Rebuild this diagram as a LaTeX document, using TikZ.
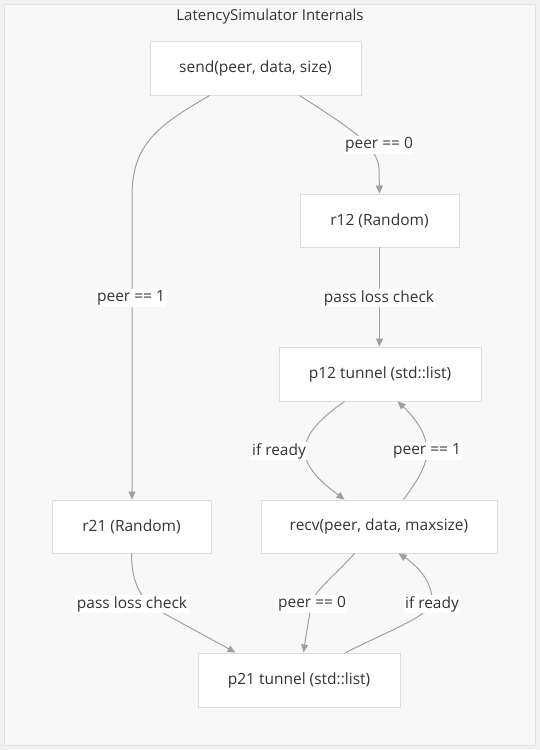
\documentclass[tikz,border=0pt]{standalone}
\usepackage{fontspec}
\setmainfont{Open Sans}
\usetikzlibrary{arrows.meta,calc}
\definecolor{pagebg}{HTML}{F1F1F1}
\definecolor{clusterbg}{HTML}{F8F8F8}
\definecolor{clusterline}{HTML}{E2E2E2}
\definecolor{boxline}{HTML}{DDDDDD}
\definecolor{edgecol}{HTML}{A0A0A0}
\definecolor{txt}{HTML}{333333}
\begin{document}
\begin{tikzpicture}[x=1pt,y=-1pt,
  box/.style={draw=boxline,fill=white,line width=0.9pt,text=txt,font=\fontsize{15.5}{18}\selectfont,inner sep=0pt},
  lbl/.style={fill=white,text=txt,font=\fontsize{15.5}{18}\selectfont,inner sep=1.5pt},
  flow/.style={draw=edgecol,line width=1pt,-{Triangle[length=8pt,width=7pt]}},
]
\useasboundingbox (0,0) rectangle (540,750);
\fill[pagebg] (0,0) rectangle (540,750);
\draw[fill=clusterbg,draw=clusterline,line width=1pt] (4.5,4.5) rectangle (535.5,745.5);
\node[text=txt,font=\fontsize{15}{18}\selectfont] (title) at (270,17) {LatencySimulator Internals};

\node[box,minimum width=211pt,minimum height=54pt] (send) at (255.5,68) {send(peer, data, size)};
\node[box,minimum width=159pt,minimum height=53pt] (r12) at (379.5,220.5) {r12 (Random)};
\node[box,minimum width=202pt,minimum height=54pt] (p12) at (380,374) {p12 tunnel (std::list)};
\node[box,minimum width=159pt,minimum height=53pt] (r21) at (131.5,526.5) {r21 (Random)};
\node[box,minimum width=236pt,minimum height=53pt] (recv) at (379,526.5) {recv(peer, data, maxsize)};
\node[box,minimum width=202pt,minimum height=54pt] (p21) at (299,680) {p21 tunnel (std::list)};

% send -> r21
\coordinate (a1) at ($(send.south west)+(60,0)$);
\draw[flow] (a1) .. controls (165,122) and (132,140) .. (132,195) -- (r21.north -| 132,0);
\node[lbl] (l1) at (131,298) {peer == 1};
% send -> r12
\coordinate (a2) at ($(send.south west)+(150,0)$);
\draw[flow] (a2) .. controls (345,125) and (379,145) .. (379,170) -- (r12.north);
\node[lbl] (l2) at (379,145) {peer == 0};
% r12 -> p12
\draw[flow] (r12.south) -- (r12.south |- p12.north);
\node[lbl] (l3) at (379,298) {pass loss check};
% p12 -> recv
\coordinate (a4) at ($(p12.south west)+(66,0)$);
\coordinate (b4) at ($(recv.north west)+(84,0)$);
\draw[flow] (a4) .. controls (318,420) and (305,435) .. (305,451) .. controls (305,468) and (322,483) .. (b4);
\node[lbl] (l4) at (279,451) {if ready};
% recv -> p12
\coordinate (a5) at ($(recv.north west)+(143,0)$);
\coordinate (b5) at ($(p12.south west)+(119,0)$);
\draw[flow] (a5) .. controls (418,480) and (427,465) .. (427,451) .. controls (427,432) and (412,415) .. (b5);
\node[lbl] (l5) at (427,451) {peer == 1};
% r21 -> p21
\coordinate (a6) at ($(p21.north west)+(38,0)$);
\draw[flow] (r21.south) .. controls (131.5,595) and (150,605) .. (165,614) -- (a6);
\node[lbl] (l6) at (132,604) {pass loss check};
% recv -> p21
\coordinate (a7) at ($(recv.south west)+(94,0)$);
\coordinate (b7) at ($(p21.north west)+(106,0)$);
\draw[flow] (a7) .. controls (332,578) and (313,592) .. (311,605) .. controls (309,620) and (306,635) .. (b7);
\node[lbl] (l7) at (312,604) {peer == 0};
% p21 -> recv
\coordinate (a8) at ($(p21.north west)+(148,0)$);
\coordinate (b8) at ($(recv.south west)+(138,0)$);
\draw[flow] (a8) .. controls (395,628) and (432,615) .. (432,600) .. controls (432,582) and (418,566) .. (b8);
\node[lbl] (l8) at (432,604) {if ready};
\end{tikzpicture}
\end{document}
